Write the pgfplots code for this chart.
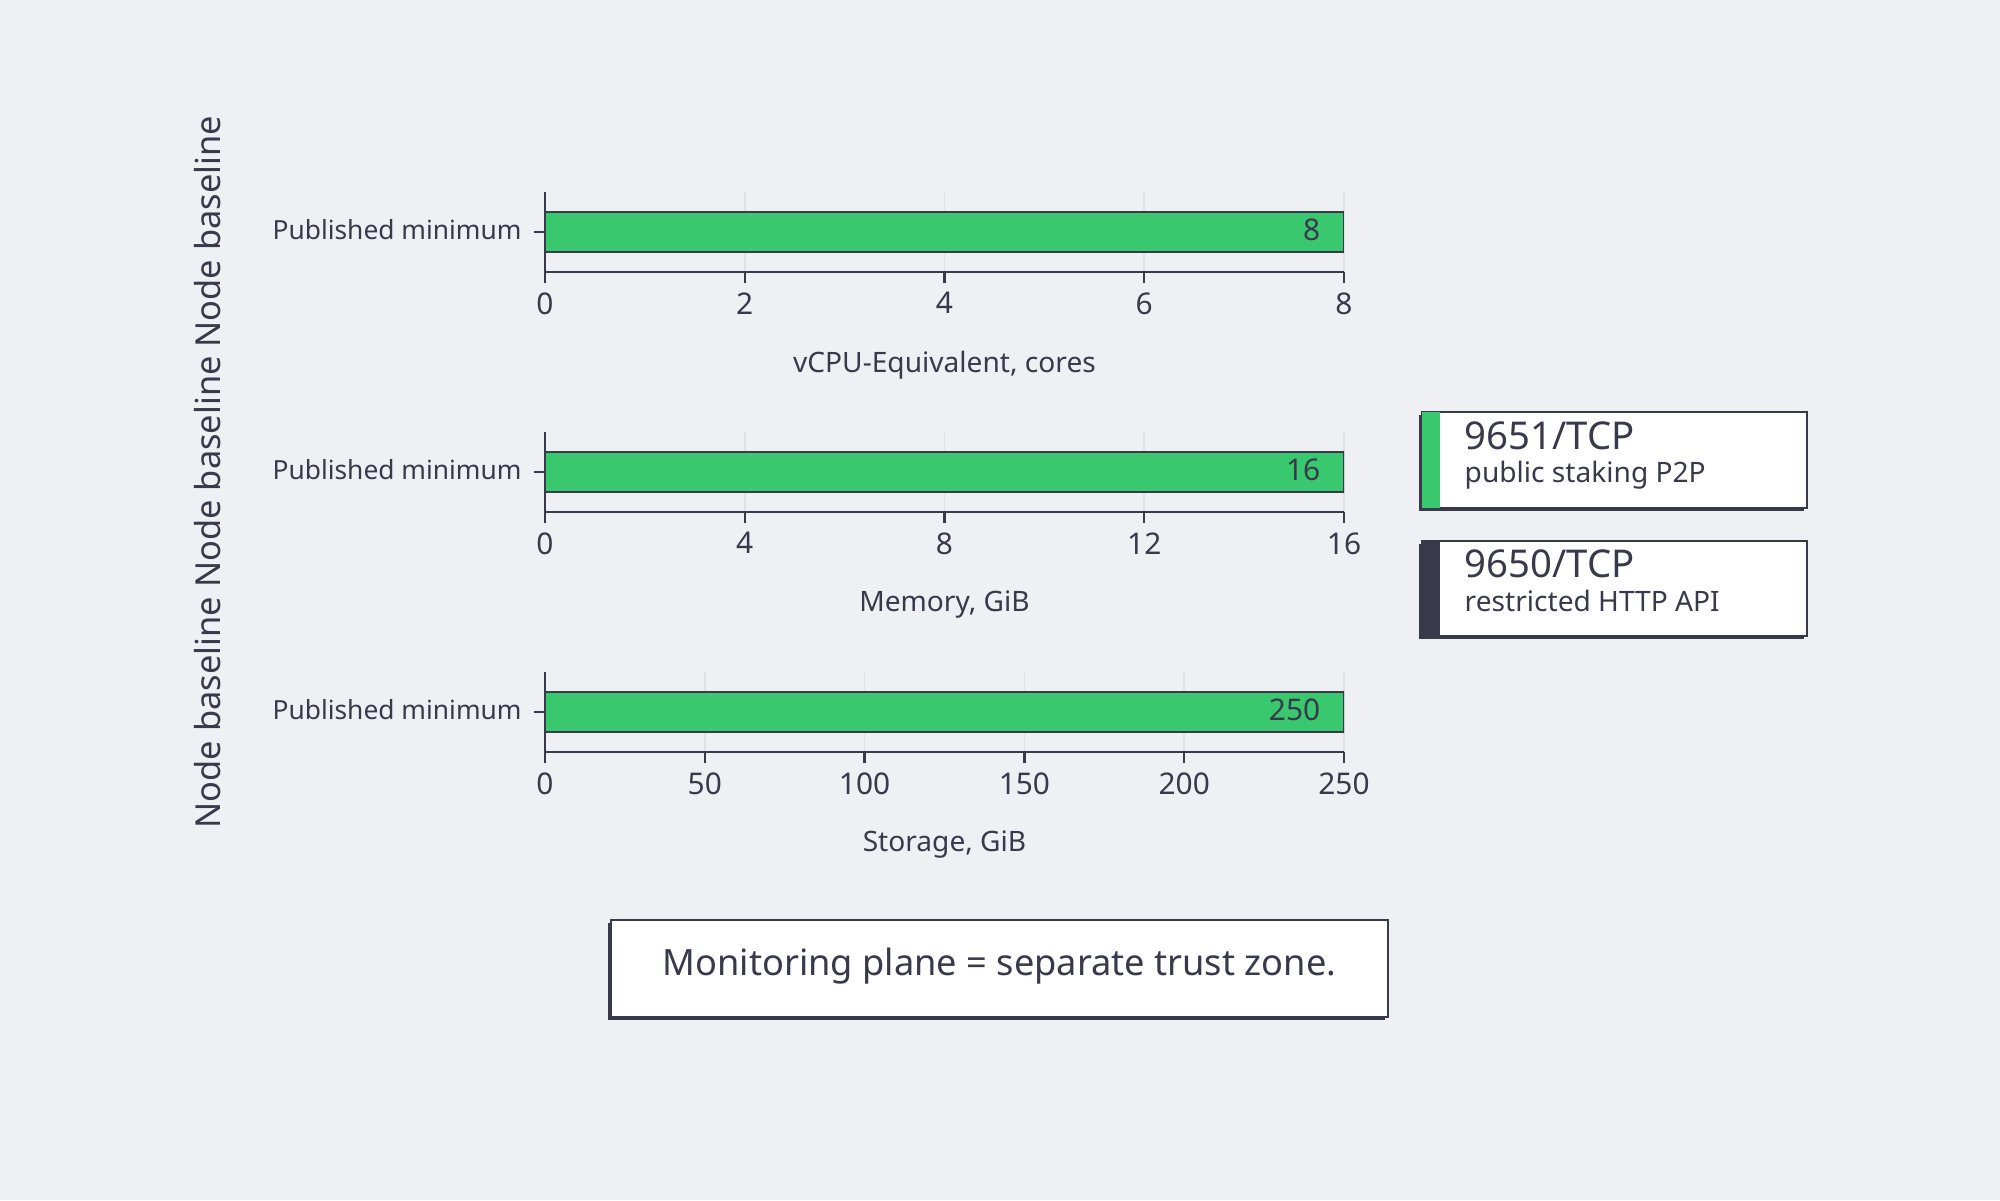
\documentclass[border=0pt]{standalone}
\usepackage{pgfplots}
\pgfplotsset{compat=1.18}
\usepackage{fontspec}
\setmainfont{Noto Sans}

\definecolor{bg}{HTML}{EFF0F4}
\definecolor{barg}{HTML}{3AC86E}
\definecolor{dark}{HTML}{383A4C}
\definecolor{gridc}{HTML}{DFE1E7}

\pgfplotsset{
  panel/.style={
    xbar, scale only axis, width=7.99cm, height=0.8cm, anchor=south west,
    axis x line*=bottom, axis y line*=left,
    axis line style={draw=dark, line width=0.7pt},
    xmin=0, ymin=-1, ymax=1, ytick={0}, yticklabels={Published minimum},
    tick style={draw=dark, line width=0.7pt},
    major tick length=1.1mm, tick align=outside,
    xmajorgrids, grid style={draw=gridc, line width=0.5pt},
    bar width=0.4cm,
    ticklabel style={text=dark},
    x tick label style={font=\fontsize{8.5}{10}\selectfont, yshift=0.3mm},
    y tick label style={font=\fontsize{7.5}{9}\selectfont, yshift=0.25mm},
    xlabel style={font=\fontsize{8}{10}\selectfont, text=dark,
      at={(axis description cs:0.5,0)}, anchor=center, yshift=-9.3mm},
    /pgf/number format/assume math mode=true,
    point meta=x,
    nodes near coords,
    nodes near coords style={anchor=east, xshift=-1.1mm, yshift=0.25mm,
      font=\fontsize{8.5}{10}\selectfont, text=dark},
  },
  barstyle/.style={fill=barg, draw=dark, line width=0.6pt},
}

\begin{document}
\begin{tikzpicture}
\useasboundingbox (0,0) rectangle (20,12);
\fill[bg] (0,0) rectangle (20,12);

% y label shared by the three panels
\node[rotate=90, text=dark, font=\fontsize{9.8}{12}\selectfont] at (2.08,7.28)
  {Node baseline Node baseline Node baseline};

\begin{axis}[panel, at={(5.45cm,9.28cm)}, xmax=8, xtick={0,2,...,8},
  xlabel={vCPU-Equivalent, cores}]
  \addplot[barstyle] coordinates {(8,0)};
\end{axis}

\begin{axis}[panel, at={(5.45cm,6.88cm)}, xmax=16, xtick={0,4,...,16},
  xlabel={Memory, GiB}]
  \addplot[barstyle] coordinates {(16,0)};
\end{axis}

\begin{axis}[panel, at={(5.45cm,4.48cm)}, xmax=250, xtick={0,50,...,250},
  xlabel={Storage, GiB}]
  \addplot[barstyle] coordinates {(250,0)};
\end{axis}

% port boxes
\fill[dark] (14.19,6.89) rectangle (18.04,7.85);
\filldraw[fill=white, draw=dark, line width=0.55pt] (14.22,6.92) rectangle (18.07,7.88);
\fill[barg] (14.22,6.92) rectangle (14.40,7.88);
\node[anchor=west, inner sep=0, text=dark, font=\fontsize{10.9}{12}\selectfont] at (14.64,7.64) {9651/TCP};
\node[anchor=west, inner sep=0, text=dark, font=\fontsize{8}{10}\selectfont] at (14.64,7.25) {public staking P2P};

\fill[dark] (14.19,5.61) rectangle (18.04,6.56);
\filldraw[fill=white, draw=dark, line width=0.55pt] (14.22,5.64) rectangle (18.07,6.59);
\fill[dark] (14.22,5.64) rectangle (14.40,6.59);
\node[anchor=west, inner sep=0, text=dark, font=\fontsize{10.9}{12}\selectfont] at (14.64,6.36) {9650/TCP};
\node[anchor=west, inner sep=0, text=dark, font=\fontsize{8}{10}\selectfont] at (14.64,5.99) {restricted HTTP API};

% note box
\fill[dark] (6.08,1.80) rectangle (13.85,2.77);
\filldraw[fill=white, draw=dark, line width=0.55pt] (6.11,1.83) rectangle (13.88,2.80);
\node[text=dark, font=\fontsize{10.3}{12}\selectfont] at (9.995,2.34) {Monitoring plane = separate trust zone.};
\end{tikzpicture}
\end{document}
